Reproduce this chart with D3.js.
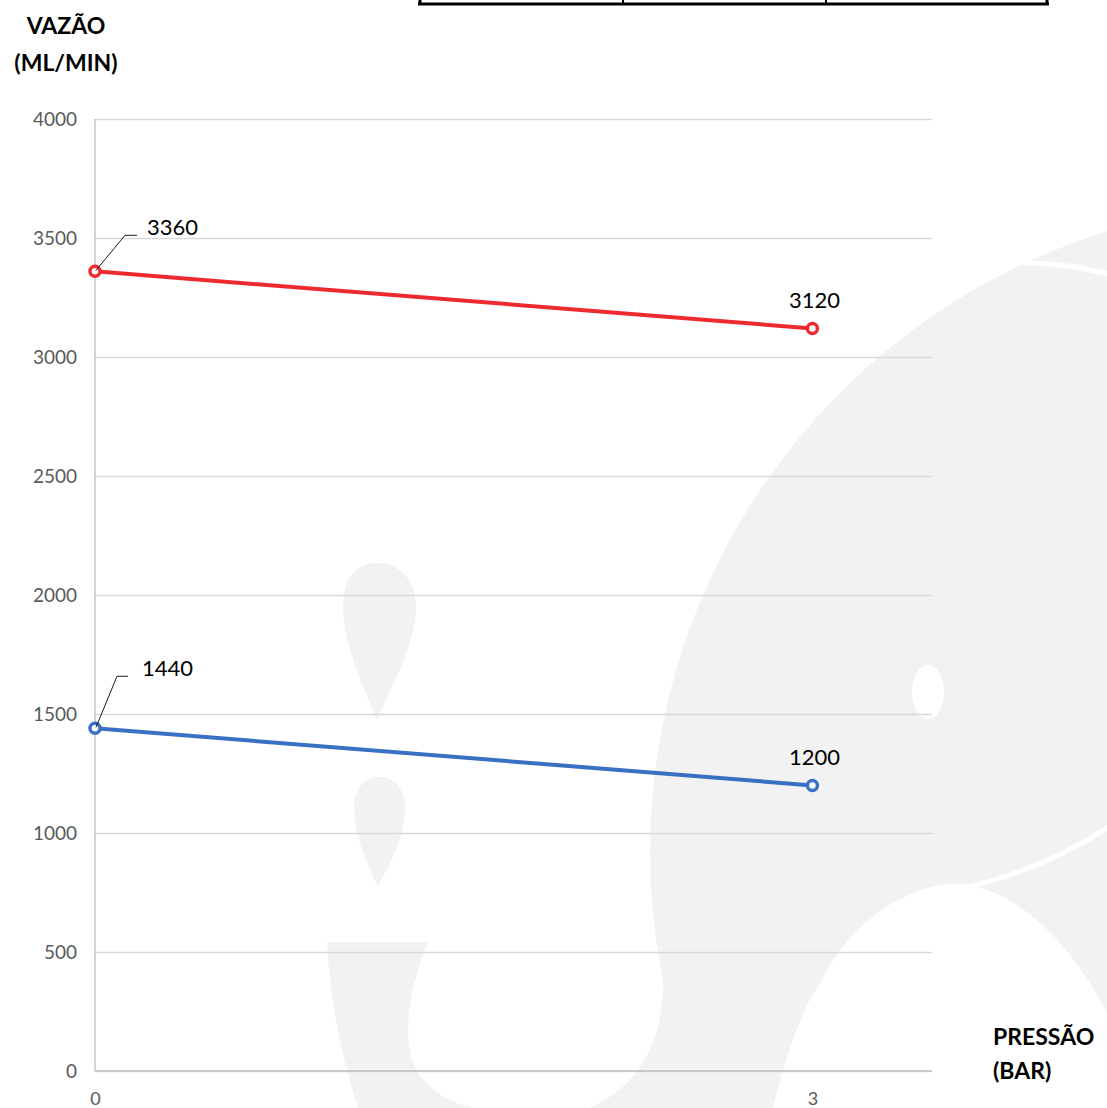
<!DOCTYPE html>
<html>
<head>
<meta charset="utf-8">
<script src="https://cdn.jsdelivr.net/npm/d3@7"></script>
<style>
  body { margin: 0; background: #fff; }
  svg { display: block; }
  text { font-family: Lato, "Open Sans", sans-serif; }
</style>
</head>
<body>
<div id="chart"></div>
<script>
// data
var pressure = [0, 3];
var flowRed = [3360, 3120];
var flowBlue = [1440, 1200];
var yTickValues = [0, 500, 1000, 1500, 2000, 2500, 3000, 3500, 4000];
var xTickValues = [0, 3];

var svgWidth = 1107;
var svgHeight = 1108;

var margin = { top: 119, right: 175, bottom: 37, left: 95 };
var width = svgWidth - margin.left - margin.right;
var height = svgHeight - margin.top - margin.bottom;

var svg = d3.select("#chart")
    .append("svg")
    .attr("width", svgWidth)
    .attr("height", svgHeight);

// faint watermark behind the chart
var wm = svg.append("g").attr("fill", "#f2f2f2");
wm.append("circle").attr("cx", 1300).attr("cy", 852).attr("r", 650);
wm.append("path").attr("d", "M663,975 C665,1040 640,1085 590,1108 L720,1108 L700,975 Z");
wm.append("path").attr("d", "M327,942 L428,942 C415,975 405,1010 409,1045 C413,1080 440,1100 473,1108 L358,1108 C340,1050 330,1000 327,942 Z");
wm.append("path").attr("d", "M377,563 C400,563 416,580 416,607 C416,640 395,680 377,720 C360,680 343,640 343,607 C343,580 355,563 377,563 Z");
wm.append("path").attr("d", "M379,777 C395,777 405,790 405,807 C405,835 392,860 378,887 C366,860 354,835 354,807 C354,790 364,777 379,777 Z");
wm.append("ellipse").attr("cx", 928).attr("cy", 692).attr("rx", 16).attr("ry", 27).attr("fill", "#fff");
wm.append("path").attr("fill", "#fff")
    .attr("d", "M773,1108 C785,1060 800,1010 820,984 C845,930 900,886 953,884 C1010,883 1070,940 1107,1013 L1107,1108 Z");
wm.append("path").attr("fill", "none").attr("stroke", "#fff").attr("stroke-width", 5)
    .attr("d", "M958,889 Q1040,872 1110,826");
wm.append("path").attr("fill", "none").attr("stroke", "#fff").attr("stroke-width", 5)
    .attr("d", "M1022,263 Q1060,262 1110,274");

// table border peeking in at the top
var tbl = svg.append("g").attr("stroke", "#000");
tbl.append("line").attr("x1", 418).attr("x2", 1049).attr("y1", 4).attr("y2", 4).attr("stroke-width", 3);
[420, 623, 826, 1047].forEach(function(x, i) {
    tbl.append("line").attr("x1", x).attr("x2", x).attr("y1", 0).attr("y2", 4)
        .attr("stroke-width", (i == 0 || i == 3) ? 3 : 2);
});

var chartGroup = svg.append("g")
    .attr("transform", `translate(${margin.left}, ${margin.top})`);

var xLinearScale = d3.scaleLinear()
    .domain([0, 3.5])
    .range([0, width]);

var yLinearScale = d3.scaleLinear()
    .domain([0, 4000])
    .range([height, 0]);

// gridlines
chartGroup.append("g")
    .call(d3.axisLeft(yLinearScale).tickValues(yTickValues).tickSize(-width).tickFormat(""))
    .call(g => g.select(".domain").remove())
    .call(g => g.selectAll("line").attr("stroke", "#d9d9d9").attr("stroke-width", 1.3));

// axis lines
chartGroup.append("line")
    .attr("x1", 0).attr("x2", 0).attr("y1", 0).attr("y2", height)
    .attr("stroke", "#bfbfbf").attr("stroke-width", 1.3);
chartGroup.append("line")
    .attr("x1", 0).attr("x2", width).attr("y1", height).attr("y2", height)
    .attr("stroke", "#bfbfbf").attr("stroke-width", 1.3);

// tick labels
var leftAxis = d3.axisLeft(yLinearScale).tickValues(yTickValues).tickSize(0).tickPadding(18)
    .tickFormat(d3.format("d"));
chartGroup.append("g")
    .call(leftAxis)
    .call(g => g.select(".domain").remove())
    .call(g => g.selectAll("text").attr("font-size", "19px").attr("fill", "#595959")
        .attr("font-family", "Lato, 'Open Sans', sans-serif"));

var bottomAxis = d3.axisBottom(xLinearScale).tickValues(xTickValues).tickSize(0).tickPadding(21)
    .tickFormat(d3.format("d"));
chartGroup.append("g")
    .attr("transform", `translate(0, ${height})`)
    .call(bottomAxis)
    .call(g => g.select(".domain").remove())
    .call(g => g.selectAll("text").attr("font-size", "18px").attr("fill", "#595959")
        .attr("font-family", "Lato, 'Open Sans', sans-serif"));

// series
var series = [
    { values: flowRed, color: "#ee2a31", leader: [30, -36, 12, 52] },
    { values: flowBlue, color: "#3a70c4", leader: [22, -52, 11, 47] }
];

var line = d3.line()
    .x(d => xLinearScale(d.x))
    .y(d => yLinearScale(d.y));

series.forEach(function(s) {
    var pts = pressure.map((p, i) => ({ x: p, y: s.values[i] }));

    chartGroup.append("path")
        .datum(pts)
        .attr("d", line)
        .attr("fill", "none")
        .attr("stroke", s.color)
        .attr("stroke-width", 4);

    chartGroup.selectAll(null)
        .data(pts)
        .enter()
        .append("circle")
        .attr("cx", d => xLinearScale(d.x))
        .attr("cy", d => yLinearScale(d.y))
        .attr("r", 5)
        .attr("fill", "#fff")
        .attr("stroke", s.color)
        .attr("stroke-width", 3.5);

    // first point label with leader line
    var p0 = pts[0];
    var px = xLinearScale(p0.x), py = yLinearScale(p0.y);
    var L = s.leader;
    chartGroup.append("polyline")
        .attr("points", `${px + 1},${py - 1} ${px + L[0]},${py + L[1]} ${px + L[0] + L[2]},${py + L[1]}`)
        .attr("fill", "none")
        .attr("stroke", "#000")
        .attr("stroke-width", 0.9);
    chartGroup.append("text")
        .attr("x", px + L[3])
        .attr("y", py + L[1])
        .attr("font-size", "22px")
        .attr("fill", "#000")
        .text(p0.y);

    // last point label above
    var p1 = pts[1];
    chartGroup.append("text")
        .attr("x", xLinearScale(p1.x) + 2)
        .attr("y", yLinearScale(p1.y) - 20)
        .attr("text-anchor", "middle")
        .attr("font-size", "22px")
        .attr("fill", "#000")
        .text(p1.y);
});

// axis titles
var yTitle = svg.append("text")
    .attr("text-anchor", "middle")
    .attr("font-size", "23px")
    .attr("font-weight", "bold")
    .attr("fill", "#000");
yTitle.append("tspan").attr("x", 66).attr("y", 34).text("VAZÃO");
yTitle.append("tspan").attr("x", 66).attr("y", 71).text("(ML/MIN)");

var xTitle = svg.append("text")
    .attr("font-size", "23px")
    .attr("font-weight", "bold")
    .attr("fill", "#000");
xTitle.append("tspan").attr("x", 993).attr("y", 1045).text("PRESSÃO");
xTitle.append("tspan").attr("x", 993).attr("y", 1079).text("(BAR)");
</script>
</body>
</html>
